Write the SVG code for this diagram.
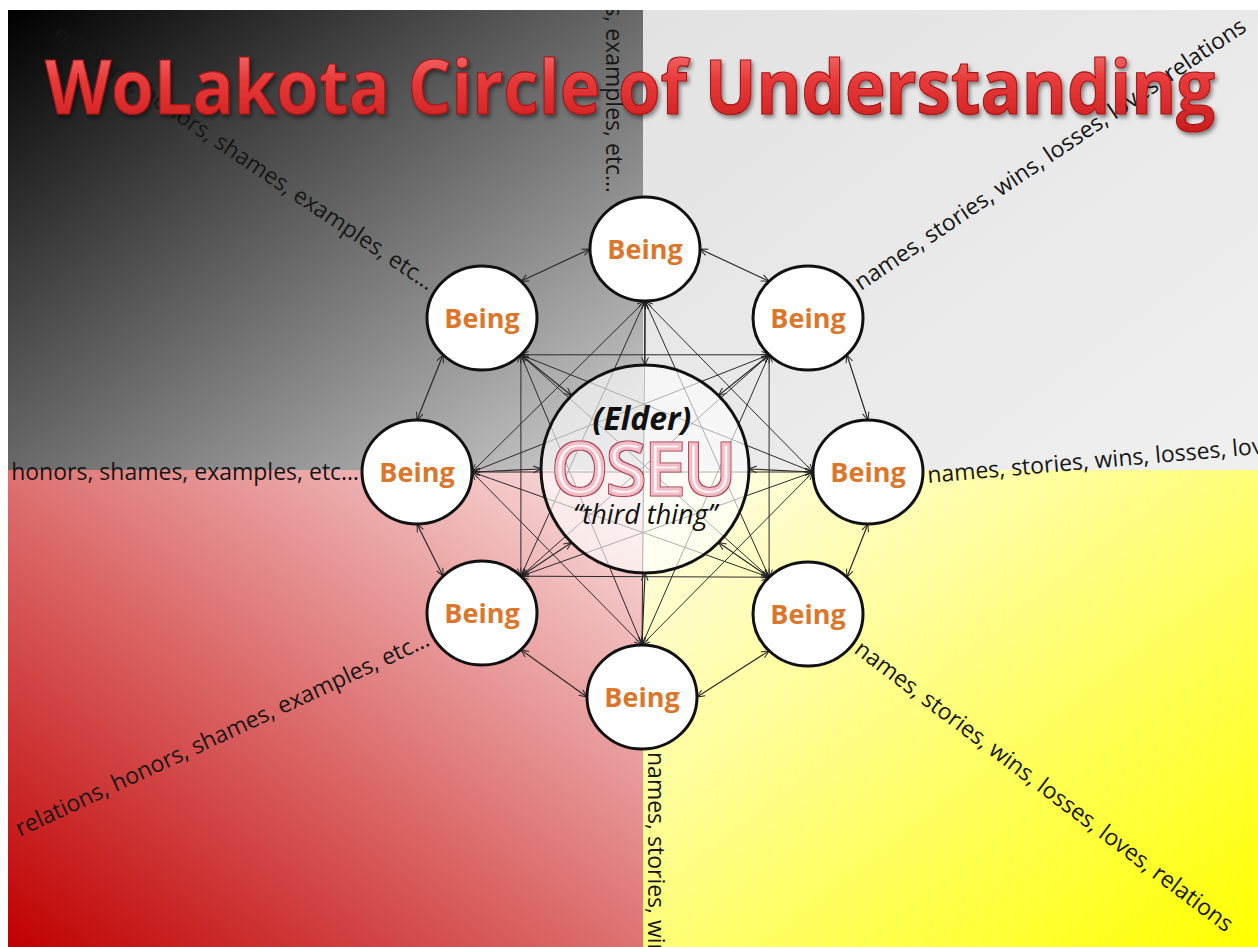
<svg xmlns="http://www.w3.org/2000/svg" width="1258" height="947" viewBox="0 0 1258 947">
<defs>
<linearGradient id="gTL" x1="0" y1="0" x2="1" y2="1"><stop offset="0" stop-color="#000"/><stop offset="1" stop-color="#d2d2d2"/></linearGradient>
<linearGradient id="gTR" x1="0" y1="0" x2="1" y2="1"><stop offset="0" stop-color="#e2e2e2"/><stop offset="1" stop-color="#f0f0f0"/></linearGradient>
<linearGradient id="gBL" x1="0" y1="1" x2="1" y2="0"><stop offset="0" stop-color="#c00000"/><stop offset="1" stop-color="#fbe4e4"/></linearGradient>
<linearGradient id="gBR" x1="0" y1="0" x2="1" y2="1"><stop offset="0" stop-color="#fffdf0"/><stop offset="1" stop-color="#ffff00"/></linearGradient>
<linearGradient id="gTitle" x1="0" y1="0" x2="0" y2="1"><stop offset="0" stop-color="#f98a8a"/><stop offset="0.45" stop-color="#e83a3a"/><stop offset="1" stop-color="#c81a1a"/></linearGradient>
<filter id="shadow" x="-5%" y="-20%" width="110%" height="150%"><feDropShadow dx="2" dy="3" stdDeviation="2" flood-color="#000" flood-opacity="0.45"/></filter>
<filter id="outl" x="-5%" y="-10%" width="110%" height="120%"><feMorphology in="SourceAlpha" operator="dilate" radius="1.3" result="dil"/><feFlood flood-color="#a84252"/><feComposite in2="dil" operator="in" result="edge"/><feMerge><feMergeNode in="edge"/><feMergeNode in="SourceGraphic"/></feMerge></filter>
<clipPath id="pic"><rect x="8" y="10" width="1250" height="937"/></clipPath>
<marker id="ah" viewBox="0 0 10 10" refX="9.5" refY="5" markerWidth="9" markerHeight="9" markerUnits="userSpaceOnUse" orient="auto-start-reverse"><path d="M1,1.2 L9.5,5 L1,8.8" fill="none" stroke="#222" stroke-width="1.1"/></marker>
<style>
.ray{font-family:"Open Sans","Noto Sans",sans-serif;font-size:23px;fill:#161616}
.c{stroke:#2a2a2a;stroke-width:1;fill:none;marker-start:url(#ah);marker-end:url(#ah)}
.ring{stroke-width:1.2}
.node{fill:#fff;stroke:#111;stroke-width:3}
.lbl{font-family:"Open Sans","Noto Sans",sans-serif;font-weight:bold;font-size:27px;fill:#dc762a;text-anchor:middle}
</style>
</defs>
<rect width="1258" height="947" fill="#fff"/>
<g id="background" clip-path="url(#pic)">
<rect x="8" y="10" width="635" height="460" fill="url(#gTL)"/>
<rect x="643" y="10" width="615" height="460" fill="url(#gTR)"/>
<rect x="8" y="470" width="635" height="477" fill="url(#gBL)"/>
<rect x="643" y="470" width="615" height="477" fill="url(#gBR)"/>
</g>
<g id="rays" clip-path="url(#pic)">
<text class="ray" text-anchor="end" transform="translate(428,291) rotate(34)">relations, honors, shames, examples, etc…</text>
<text class="ray" text-anchor="end" transform="translate(359,480)">relations, honors, shames, examples, etc…</text>
<text class="ray" text-anchor="end" transform="translate(431,645) rotate(-25)">relations, honors, shames, examples, etc…</text>
<text class="ray" text-anchor="end" transform="translate(606,193) rotate(90)">relations, honors, shames, examples, etc…</text>
<text class="ray" transform="translate(861,291) rotate(-34)">names, stories, wins, losses, loves, relations</text>
<text class="ray" transform="translate(928,483) rotate(-5)">names, stories, wins, losses, loves, relations</text>
<text class="ray" transform="translate(853,652) rotate(37)">names, stories, wins, losses, loves, relations</text>
<text class="ray" transform="translate(648,752) rotate(90)">names, stories, wins, losses, loves, relations</text>
</g>
<g id="connectors">
<line class="c ring" x1="700" y1="249" x2="769.1" y2="281.2"/>
<line class="c ring" x1="846.9" y1="354.8" x2="868" y2="420"/>
<line class="c ring" x1="868" y1="524" x2="846.9" y2="577.2"/>
<line class="c ring" x1="769.1" y1="650.8" x2="697" y2="697"/>
<line class="c ring" x1="587" y1="697" x2="520.9" y2="649.8"/>
<line class="c ring" x1="443.1" y1="576.2" x2="417" y2="524"/>
<line class="c ring" x1="417" y1="420" x2="443.1" y2="354.8"/>
<line class="c ring" x1="520.9" y1="281.2" x2="590" y2="249"/>
<line class="c ring" x1="645" y1="301" x2="645" y2="365"/>
<line class="c ring" x1="769.1" y1="354.8" x2="718.5" y2="395.5"/>
<line class="c ring" x1="813" y1="472" x2="749" y2="469"/>
<line class="c ring" x1="769.1" y1="577.2" x2="718.5" y2="542.5"/>
<line class="c ring" x1="642" y1="645" x2="645" y2="573"/>
<line class="c ring" x1="520.9" y1="576.2" x2="571.5" y2="542.5"/>
<line class="c ring" x1="472" y1="472" x2="541" y2="469"/>
<line class="c ring" x1="520.9" y1="354.8" x2="571.5" y2="395.5"/>
<line class="c" x1="645" y1="301" x2="813" y2="472"/>
<line class="c" x1="645" y1="301" x2="769.1" y2="577.2"/>
<line class="c" x1="645" y1="301" x2="642" y2="645"/>
<line class="c" x1="645" y1="301" x2="520.9" y2="576.2"/>
<line class="c" x1="645" y1="301" x2="472" y2="472"/>
<line class="c" x1="769.1" y1="354.8" x2="769.1" y2="577.2"/>
<line class="c" x1="769.1" y1="354.8" x2="642" y2="645"/>
<line class="c" x1="769.1" y1="354.8" x2="520.9" y2="576.2"/>
<line class="c" x1="769.1" y1="354.8" x2="472" y2="472"/>
<line class="c" x1="769.1" y1="354.8" x2="520.9" y2="354.8"/>
<line class="c" x1="813" y1="472" x2="642" y2="645"/>
<line class="c" x1="813" y1="472" x2="520.9" y2="576.2"/>
<line class="c" x1="813" y1="472" x2="472" y2="472"/>
<line class="c" x1="813" y1="472" x2="520.9" y2="354.8"/>
<line class="c" x1="769.1" y1="577.2" x2="520.9" y2="576.2"/>
<line class="c" x1="769.1" y1="577.2" x2="472" y2="472"/>
<line class="c" x1="769.1" y1="577.2" x2="520.9" y2="354.8"/>
<line class="c" x1="642" y1="645" x2="472" y2="472"/>
<line class="c" x1="642" y1="645" x2="520.9" y2="354.8"/>
<line class="c" x1="520.9" y1="576.2" x2="520.9" y2="354.8"/>
</g>
<g id="center">
<circle cx="645" cy="469" r="104" fill="#fff" fill-opacity="0.62" stroke="#111" stroke-width="3"/>
<text x="642" y="430" text-anchor="middle" font-family="Open Sans, Noto Sans, sans-serif" font-weight="bold" font-style="italic" font-size="32" fill="#111">(Elder)</text>
<text x="644" y="494" text-anchor="middle" font-family="Open Sans, Noto Sans, sans-serif" font-size="70" fill="#fdf4f6" stroke="#f3bcc7" stroke-width="3" filter="url(#outl)">OSEU</text>
<text x="645" y="524" text-anchor="middle" font-family="Open Sans, Noto Sans, sans-serif" font-style="italic" font-size="27" fill="#111">“third thing”</text>
</g>
<g id="being-t"><ellipse class="node" cx="645" cy="249" rx="55" ry="52"/><text class="lbl" x="645" y="259">Being</text></g>
<g id="being-ur"><ellipse class="node" cx="808" cy="318" rx="55" ry="52"/><text class="lbl" x="808" y="328">Being</text></g>
<g id="being-r"><ellipse class="node" cx="868" cy="472" rx="55" ry="52"/><text class="lbl" x="868" y="482">Being</text></g>
<g id="being-lr"><ellipse class="node" cx="808" cy="614" rx="55" ry="52"/><text class="lbl" x="808" y="624">Being</text></g>
<g id="being-b"><ellipse class="node" cx="642" cy="697" rx="55" ry="52"/><text class="lbl" x="642" y="707">Being</text></g>
<g id="being-ll"><ellipse class="node" cx="482" cy="613" rx="55" ry="52"/><text class="lbl" x="482" y="623">Being</text></g>
<g id="being-l"><ellipse class="node" cx="417" cy="472" rx="55" ry="52"/><text class="lbl" x="417" y="482">Being</text></g>
<g id="being-ul"><ellipse class="node" cx="482" cy="318" rx="55" ry="52"/><text class="lbl" x="482" y="328">Being</text></g>
<g id="title">
<text x="45" y="114" textLength="1170" lengthAdjust="spacingAndGlyphs" font-family="Open Sans, Noto Sans, sans-serif" font-weight="bold" font-size="76" fill="url(#gTitle)" stroke="#a51515" stroke-width="1.2" filter="url(#shadow)">WoLakota Circle of Understanding</text>
</g>
</svg>
